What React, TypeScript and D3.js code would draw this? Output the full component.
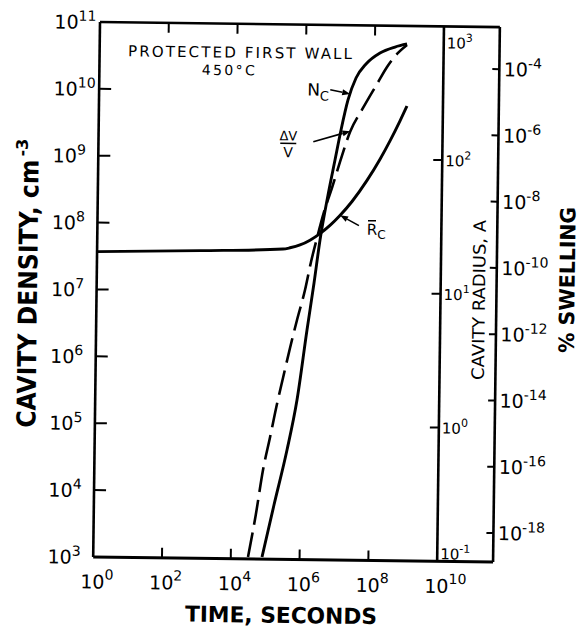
import React from "react";
import * as d3 from "d3";

// ---- tick exponents ----
const timeTickExps = [0, 2, 4, 6, 8, 10];
const densityTickExps = [3, 4, 5, 6, 7, 8, 9, 10, 11];
const radiusTickExps = [-1, 0, 1, 2, 3];
const swellingTickExps = [-4, -6, -8, -10, -12, -14, -16, -18];

// ---- N_C : cavity density (log10 time [s], log10 density [cm^-3]) ----
const ncLogTime = [4.907, 5.236, 5.594, 5.866, 6.131, 6.318, 6.476, 6.692, 6.882, 7.046, 7.238, 7.463, 7.748, 8.151, 8.585, 8.933];
const ncLogDensity = [3.031, 3.811, 4.636, 5.385, 6.434, 7.138, 7.782, 8.457, 8.981, 9.431, 9.881, 10.211, 10.423, 10.59, 10.682, 10.73];

// ---- ΔV/V : % swelling (dashed) ----
const dvLogTime = [4.5, 4.71, 4.904, 5.098, 5.286, 5.451, 5.644, 5.837, 6.058, 6.222, 6.388, 6.582, 6.805, 7.028, 7.308, 7.677, 8.075, 8.36, 8.645, 8.933];
const dvLogSwelling = [-18.816, -17.546, -16.185, -15.187, -14.188, -13.402, -12.494, -11.646, -10.738, -9.89, -9.164, -8.377, -7.649, -6.862, -5.953, -5.224, -4.494, -3.977, -3.581, -3.306];

// ---- R_C : mean cavity radius (Å) ----
const rcLogTime = [0, 2.991, 5.404, 5.607, 5.896, 6.185, 6.473, 6.76, 7.046, 7.392, 7.82, 8.19, 8.474, 8.758, 8.953];
const rcLogRadius = [1.283, 1.3, 1.32, 1.33, 1.352, 1.389, 1.439, 1.501, 1.576, 1.682, 1.841, 2.001, 2.139, 2.29, 2.401];

const W = 581;
const H = 628;
const L = 96.6;
const XEND = 440.6;
const RB = 496.5;
const T = 24.5;
const B = 559.5;

const FONT = "DejaVu Sans";

function interp(ts: number[], vs: number[], t: number) {
  for (let i = 0; i < ts.length - 1; i++) {
    if (t >= ts[i] && t <= ts[i + 1]) {
      const f = (t - ts[i]) / (ts[i + 1] - ts[i]);
      return vs[i] + f * (vs[i + 1] - vs[i]);
    }
  }
  return vs[vs.length - 1];
}

function Arrow({ x1, y1, x2, y2 }: { x1: number; y1: number; x2: number; y2: number }) {
  const ang = Math.atan2(y2 - y1, x2 - x1);
  const len = 8;
  const w = 3;
  const bx = x2 - len * Math.cos(ang);
  const by = y2 - len * Math.sin(ang);
  const px = -Math.sin(ang) * w;
  const py = Math.cos(ang) * w;
  return (
    <g>
      <line x1={x1} y1={y1} x2={bx} y2={by} stroke="#000" strokeWidth={1.6} />
      <path d={`M${x2},${y2}L${bx + px},${by + py}L${bx - px},${by - py}Z`} fill="#000" />
    </g>
  );
}

export default function App() {
  const x = d3.scaleLog().domain([1, 1e10]).range([L, XEND]);
  const yN = d3.scaleLog().domain([1e3, 1e11]).range([B, T]);
  const yR = d3.scaleLog().domain([0.1, 1e3]).range([B, T]);
  const yS = d3.scaleLog().domain([Math.pow(10, -18.875), Math.pow(10, -2.73)]).range([B, T]);

  const line = d3
    .line<[number, number]>()
    .x((d) => d[0])
    .y((d) => d[1])
    .curve(d3.curveMonotoneX);

  const ncPts: [number, number][] = ncLogTime.map((t, i) => [x(Math.pow(10, t)), yN(Math.pow(10, ncLogDensity[i]))]);
  const dvPts: [number, number][] = dvLogTime.map((t, i) => [x(Math.pow(10, t)), yS(Math.pow(10, dvLogSwelling[i]))]);
  const rcPts: [number, number][] = rcLogTime.map((t, i) => [x(Math.pow(10, t)), yR(Math.pow(10, rcLogRadius[i]))]);

  // annotation tips on curves
  const ncTipT = 7.3;
  const ncTip = [x(Math.pow(10, ncTipT)), yN(Math.pow(10, interp(ncLogTime, ncLogDensity, ncTipT)))];
  const dvTipT = 7.32;
  const dvTip = [x(Math.pow(10, dvTipT)), yS(Math.pow(10, interp(dvLogTime, dvLogSwelling, dvTipT)))];
  const rcTipT = 7.05;
  const rcTip = [x(Math.pow(10, rcTipT)), yR(Math.pow(10, interp(rcLogTime, rcLogRadius, rcTipT)))];

  const axisW = 2.6;

  return (
    <svg
      width={W}
      height={H}
      style={{ position: "absolute", left: 0, top: 0, background: "#fff" }}
      fontFamily={FONT}
    >
      <rect x={0} y={0} width={W} height={H} fill="#fff" />
      <g transform="rotate(0.73 296 290)">
        {/* frame */}
        <line x1={L} y1={T} x2={RB} y2={T} stroke="#000" strokeWidth={axisW} />
        <line x1={L} y1={B} x2={RB} y2={B} stroke="#000" strokeWidth={3} />
        <line x1={L} y1={T} x2={L} y2={B} stroke="#000" strokeWidth={axisW} />
        <line x1={RB} y1={T} x2={RB} y2={B} stroke="#000" strokeWidth={axisW} />
        <line x1={XEND} y1={T} x2={XEND} y2={B} stroke="#000" strokeWidth={axisW} />

        {/* time ticks (top & bottom) */}
        {timeTickExps
          .filter((e) => e > 0 && e < 10)
          .map((e) => (
            <g key={"tt" + e}>
              <line x1={x(Math.pow(10, e))} x2={x(Math.pow(10, e))} y1={B} y2={B - 10} stroke="#000" strokeWidth={2} />
              <line x1={x(Math.pow(10, e))} x2={x(Math.pow(10, e))} y1={T} y2={T + 10} stroke="#000" strokeWidth={2} />
            </g>
          ))}
        {timeTickExps.map((e) => (
          <text key={"tl" + e} x={x(Math.pow(10, e)) - 12.5} y={591} fontSize={19}>
            10
            <tspan dy={-9} fontSize={14}>
              {e}
            </tspan>
          </text>
        ))}

        {/* density ticks (left) */}
        {densityTickExps
          .filter((e) => e > 3 && e < 11)
          .map((e) => (
            <line key={"dt" + e} x1={L} x2={L + 12} y1={yN(Math.pow(10, e))} y2={yN(Math.pow(10, e))} stroke="#000" strokeWidth={2} />
          ))}
        {densityTickExps.map((e) => (
          <text key={"dl" + e} x={51} y={yN(Math.pow(10, e)) + 7} fontSize={19}>
            10
            <tspan dy={-8} fontSize={14}>
              {e}
            </tspan>
          </text>
        ))}

        {/* radius ticks (inner axis) */}
        {radiusTickExps
          .filter((e) => e > -1 && e < 3)
          .map((e) => (
            <line key={"rt" + e} x1={XEND - 9} x2={XEND} y1={yR(Math.pow(10, e))} y2={yR(Math.pow(10, e))} stroke="#000" strokeWidth={2} />
          ))}
        {radiusTickExps.map((e) => {
          const yy = Math.min(Math.max(yR(Math.pow(10, e)) + 6, T + 22), B - 2);
          return (
            <text key={"rl" + e} x={XEND + 3} y={yy} fontSize={15}>
              10
              <tspan dy={-7} fontSize={11}>
                {e}
              </tspan>
            </text>
          );
        })}

        {/* swelling ticks (right border) */}
        {swellingTickExps.map((e) => (
          <line key={"st" + e} x1={RB - 7} x2={RB} y1={yS(Math.pow(10, e))} y2={yS(Math.pow(10, e))} stroke="#000" strokeWidth={2} />
        ))}
        {swellingTickExps.map((e) => (
          <text key={"sl" + e} x={RB + 4.5} y={yS(Math.pow(10, e)) + 7} fontSize={19}>
            10
            <tspan dy={-8} fontSize={14}>
              {e}
            </tspan>
          </text>
        ))}

        {/* curves */}
        <path d={line(ncPts) || ""} fill="none" stroke="#000" strokeWidth={2.9} />
        <path d={line(rcPts) || ""} fill="none" stroke="#000" strokeWidth={2.9} />
        <path d={line(dvPts) || ""} fill="none" stroke="#000" strokeWidth={2.6} strokeDasharray="25 8" />

        {/* annotations */}
        <Arrow x1={ncTip[0] - 20} y1={ncTip[1] - 4} x2={ncTip[0]} y2={ncTip[1]} />
        <text x={ncTip[0] - 43} y={ncTip[1] + 2} fontSize={17}>
          N
          <tspan dy={5} fontSize={13}>
            C
          </tspan>
        </text>

        <Arrow x1={dvTip[0] - 37} y1={dvTip[1] + 11} x2={dvTip[0]} y2={dvTip[1]} />
        <text x={dvTip[0] - 62} y={dvTip[1] + 10} fontSize={13} textAnchor="middle">
          ΔV
        </text>
        <line x1={dvTip[0] - 70} x2={dvTip[0] - 54} y1={dvTip[1] + 13} y2={dvTip[1] + 13} stroke="#000" strokeWidth={1.6} />
        <text x={dvTip[0] - 62} y={dvTip[1] + 27} fontSize={14} textAnchor="middle">
          V
        </text>

        <Arrow x1={rcTip[0] + 19} y1={rcTip[1] + 10} x2={rcTip[0]} y2={rcTip[1]} />
        <text x={rcTip[0] + 27} y={rcTip[1] + 19} fontSize={15}>
          R
          <tspan dy={4} fontSize={12}>
            C
          </tspan>
        </text>
        <line x1={rcTip[0] + 28} x2={rcTip[0] + 36} y1={rcTip[1] + 5} y2={rcTip[1] + 5} stroke="#000" strokeWidth={1.4} />

        {/* title */}
        <text x={237} y={58.5} fontSize={15} textAnchor="middle" textLength={224} lengthAdjust="spacing">
          PROTECTED FIRST WALL
        </text>
        <text x={225.5} y={76} fontSize={14} textAnchor="middle" textLength={53} lengthAdjust="spacing">
          450°C
        </text>

        {/* axis titles */}
        <text x={285.2} y={623} fontSize={22} fontWeight="bold" textAnchor="middle" textLength={192} lengthAdjust="spacingAndGlyphs">
          TIME, SECONDS
        </text>
        <g transform="translate(37,431) rotate(-90)">
          <text x={0} y={0} fontSize={26} fontWeight="bold" textLength={268} lengthAdjust="spacingAndGlyphs">
            CAVITY DENSITY, cm
          </text>
          <text x={271} y={-11} fontSize={16} fontWeight="bold">
            -3
          </text>
        </g>
        <g transform="translate(485,377.6) rotate(-90)">
          <text x={0} y={0} fontSize={17} textLength={160} lengthAdjust="spacingAndGlyphs">
            CAVITY RADIUS, A
          </text>
        </g>
        <g transform="translate(574.5,349.4) rotate(-90)">
          <text x={0} y={0} fontSize={21} fontWeight="bold" textLength={146} lengthAdjust="spacingAndGlyphs">
            % SWELLING
          </text>
        </g>
      </g>
    </svg>
  );
}
